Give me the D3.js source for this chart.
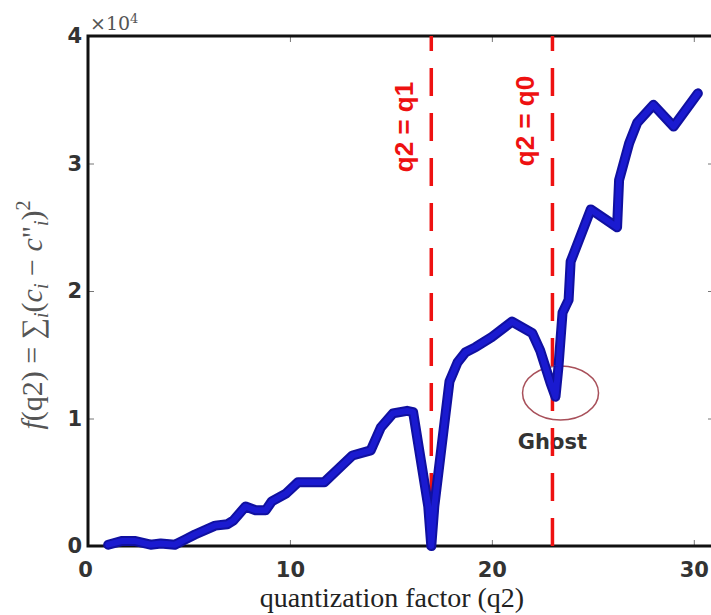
<!DOCTYPE html>
<html>
<head>
<meta charset="utf-8">
<script src="https://cdn.jsdelivr.net/npm/d3@7"></script>
<style>
  body { margin: 0; background: #fff; }
  svg { display: block; }
</style>
</head>
<body>
<div id="chart"></div>
<script>
const qValues = [1.0, 1.7, 2.3, 3.1, 3.6, 4.3, 4.8, 5.3, 6.3, 6.9, 7.2, 7.8, 8.3, 8.8, 9.1, 9.8,
  10.4, 11.7, 12.5, 13.1, 14.0, 14.5, 15.1, 15.8, 16.1, 16.85, 17.0, 17.15, 17.9, 18.3, 18.7,
  19.2, 20.0, 21.0, 22.0, 22.4, 22.9, 23.15, 23.3, 23.5, 23.8, 23.9, 24.9, 26.2, 26.3, 26.8,
  27.2, 28.0, 29.0, 30.2];
const fValues = [100, 400, 400, 100, 200, 100, 500, 900, 1600, 1700, 2000, 3100, 2800, 2800, 3500, 4100,
  5000, 5000, 6200, 7100, 7500, 9300, 10400, 10600, 10500, 3100, 0, 3100, 12900, 14400, 15200,
  15600, 16400, 17600, 16700, 15300, 12800, 11700, 14100, 18300, 19300, 22300, 26400, 25000, 28700, 31600,
  33200, 34600, 32900, 35500];

// reference lines
const markers = [
  { q: 17, label: 'q2 = q1' },
  { q: 23, label: 'q2 = q0' }
];

const xTicks = [0, 10, 20, 30];
const yTicks = [0, 10000, 20000, 30000, 40000];

const width = 711, height = 615;
const mLeft = 88, mTop = 36, mRight = 714, mBottom = 546;

const svg = d3.select('#chart').append('svg')
  .attr('width', width)
  .attr('height', height);

const x = d3.scaleLinear().domain([0, 31]).range([mLeft, mRight]);
const y = d3.scaleLinear().domain([0, 40000]).range([mBottom, mTop]);

// inward ticks on all four sides
const tickStyle = g => g.selectAll('.tick line').attr('stroke', '#777').attr('stroke-width', 1);

svg.append('g')
  .attr('transform', `translate(0,${mBottom})`)
  .call(d3.axisBottom(x).tickValues(xTicks).tickSize(-6).tickPadding(16).tickFormat(d3.format('d')))
  .call(g => g.select('.domain').remove())
  .call(tickStyle)
  .call(g => g.selectAll('text')
    .attr('font-family', 'DejaVu Sans').attr('font-weight', 'bold')
    .attr('font-size', 21).attr('fill', '#333'));
svg.select('g .tick text').attr('dx', -3);

svg.append('g')
  .attr('transform', `translate(0,${mTop})`)
  .call(d3.axisTop(x).tickValues(xTicks).tickSize(-6).tickFormat(''))
  .call(g => g.select('.domain').remove())
  .call(tickStyle);

svg.append('g')
  .attr('transform', `translate(${mLeft},0)`)
  .call(d3.axisLeft(y).tickValues(yTicks).tickSize(-6).tickPadding(6).tickFormat(d => d / 10000))
  .call(g => g.select('.domain').remove())
  .call(tickStyle)
  .call(g => g.selectAll('text')
    .attr('font-family', 'DejaVu Sans').attr('font-weight', 'bold')
    .attr('font-size', 21).attr('fill', '#333'));

svg.append('g')
  .attr('transform', `translate(${mRight},0)`)
  .call(d3.axisRight(y).tickValues(yTicks).tickSize(-6).tickFormat(''))
  .call(g => g.select('.domain').remove())
  .call(tickStyle);

// axes box
svg.append('rect')
  .attr('x', mLeft).attr('y', mTop)
  .attr('width', mRight - mLeft).attr('height', mBottom - mTop)
  .attr('fill', 'none').attr('stroke', '#111').attr('stroke-width', 3);

// exponent
const exp = svg.append('text')
  .attr('x', mLeft + 2).attr('y', mTop - 6)
  .attr('font-family', 'DejaVu Serif').attr('font-size', 19).attr('fill', '#555');
exp.append('tspan').text('\u00d710');
exp.append('tspan').attr('dy', -7).attr('font-size', 13).text('4');

// ghost annotation (under the dashed lines)
svg.append('ellipse')
  .attr('cx', x(23.4)).attr('cy', y(12000))
  .attr('rx', 38).attr('ry', 27)
  .attr('fill', 'none').attr('stroke', '#a8505a').attr('stroke-width', 1.5);

svg.append('text')
  .attr('x', x(23.0)).attr('y', y(12000) + 56)
  .attr('text-anchor', 'middle')
  .attr('font-family', 'DejaVu Sans').attr('font-weight', 'bold')
  .attr('font-size', 21).attr('fill', '#333')
  .text('Ghost');

// dashed marker lines, drawn bottom to top
markers.forEach(m => {
  svg.append('line')
    .attr('x1', x(m.q)).attr('x2', x(m.q))
    .attr('y1', mBottom).attr('y2', mTop)
    .attr('stroke', '#ee1111').attr('stroke-width', 3.5)
    .attr('stroke-dasharray', '28,17');
});

// data line
const line = d3.line().x((d, i) => x(qValues[i])).y(d => y(d));
svg.append('path')
  .datum(fValues)
  .attr('d', line)
  .attr('fill', 'none')
  .attr('stroke', '#1010a0')
  .attr('stroke-width', 10)
  .attr('stroke-linejoin', 'round')
  .attr('stroke-linecap', 'round');
svg.append('path')
  .datum(fValues)
  .attr('d', line)
  .attr('fill', 'none')
  .attr('stroke', '#1a1ad0')
  .attr('stroke-width', 6)
  .attr('stroke-linejoin', 'round')
  .attr('stroke-linecap', 'round');

// marker labels (vertical)
markers.forEach((m, i) => {
  svg.append('text')
    .attr('transform', `translate(${x(m.q) - 18},${i === 0 ? 127 : 121}) rotate(-90)`)
    .attr('text-anchor', 'middle')
    .attr('font-family', 'Liberation Sans').attr('font-weight', 'bold')
    .attr('font-size', 26).attr('fill', '#ee1111')
    .text(m.label);
});

// axis titles
svg.append('text')
  .attr('x', 392).attr('y', 607)
  .attr('text-anchor', 'middle')
  .attr('font-family', 'Liberation Serif').attr('font-size', 28).attr('fill', '#222')
  .text('quantization factor (q2)');

const yl = svg.append('text')
  .attr('transform', 'translate(42,315) rotate(-90)')
  .attr('text-anchor', 'middle')
  .attr('font-family', 'Liberation Serif').attr('font-size', 30).attr('fill', '#555');
yl.append('tspan').attr('font-style', 'italic').text('f');
yl.append('tspan').text('(q2) = \u2211');
yl.append('tspan').attr('font-style', 'italic').attr('font-size', 20).attr('dy', 6).text('i');
yl.append('tspan').attr('dy', -6).text('(');
yl.append('tspan').attr('font-style', 'italic').text('c');
yl.append('tspan').attr('font-style', 'italic').attr('font-size', 20).attr('dy', 6).text('i');
yl.append('tspan').attr('dy', -6).text(' \u2212 ');
yl.append('tspan').attr('font-style', 'italic').text('c');
yl.append('tspan').text('"');
yl.append('tspan').attr('font-style', 'italic').attr('font-size', 20).attr('dy', 6).text('i');
yl.append('tspan').attr('dy', -6).text(')');
yl.append('tspan').attr('font-size', 20).attr('dy', -12).text('2');
</script>
</body>
</html>
